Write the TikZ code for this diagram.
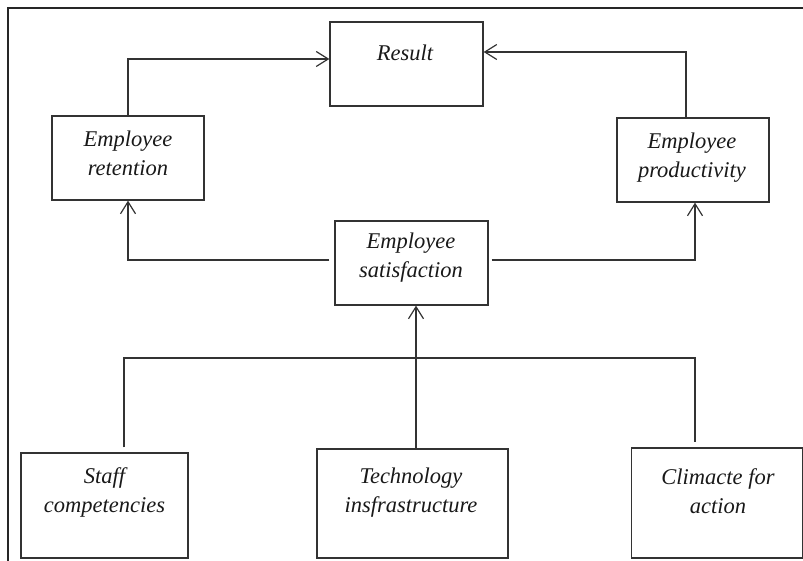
\documentclass[tikz,border=0pt]{standalone}
\usepackage{fontspec}
\setmainfont{Liberation Serif}
\usetikzlibrary{arrows.meta}
\definecolor{ln}{HTML}{333333}
\tikzset{
  box/.style={draw=ln, line width=1.3pt, rectangle, inner sep=0pt},
  txt/.style={font=\fontsize{22.5}{29}\selectfont\itshape, align=center, inner sep=0pt, text=black!90},
  conn/.style={draw=ln, line width=1.2pt},
  arr/.style={conn, -{Straight Barb[length=12pt, width=15pt, line width=1.2pt]}}
}
\begin{document}
\begin{tikzpicture}[x=1pt, y=-1pt]
\useasboundingbox (0,0) rectangle (803,561);
% frame
\draw[line width=1.8pt, black!85] (8,561) -- (8,8) -- (803,8);
% boxes
\node[box, minimum width=153pt, minimum height=84pt] (res) at (406.5,64) {};
\node[box, minimum width=152pt, minimum height=84pt] (ret) at (128,158) {};
\node[box, minimum width=152pt, minimum height=84pt] (prod) at (693,160) {};
\node[box, minimum width=153pt, minimum height=84pt] (sat) at (411.5,263) {};
\node[box, minimum width=167pt, minimum height=105pt] (staff) at (104.5,505.5) {};
\node[box, minimum width=191pt, minimum height=109pt] (tech) at (412.5,503.5) {};
\node[box, minimum width=171pt, minimum height=110pt] (clim) at (717,503) {};
% texts
\node[txt] (rest) at (405,53) {Result};
\node[txt] (rett) at (128,153.5) {Employee\\retention};
\node[txt] (prodt) at (692,158) {Employee\\productivity};
\node[txt] (satt) at (411,257.5) {Employee\\satisfaction};
\node[txt] (stafft) at (104.5,492.5) {Staff\\competencies};
\node[txt] (techt) at (411,492.5) {Technology\\insfrastructure};
\node[txt] (climt) at (718,491) {Climacte for\\action};
% connectors
\draw[arr] (ret.north) |- ([yshift=5pt]res.west);
\draw[arr] ([xshift=-7pt]prod.north) |- ([yshift=12pt]res.east);
\draw[arr] ([xshift=-5pt,yshift=3pt]sat.west) -| (ret.south);
\draw[arr] ([xshift=3pt,yshift=3pt]sat.east) -| ([xshift=2pt]prod.south);
\draw[arr] ([xshift=3.5pt]tech.north) -- ([xshift=4.5pt]sat.south);
\coordinate (busl) at (124,358);
\draw[conn] ([xshift=19.5pt,yshift=5pt]staff.north) -- (busl) -| ([xshift=-22pt,yshift=5pt]clim.north);
\end{tikzpicture}
\end{document}
